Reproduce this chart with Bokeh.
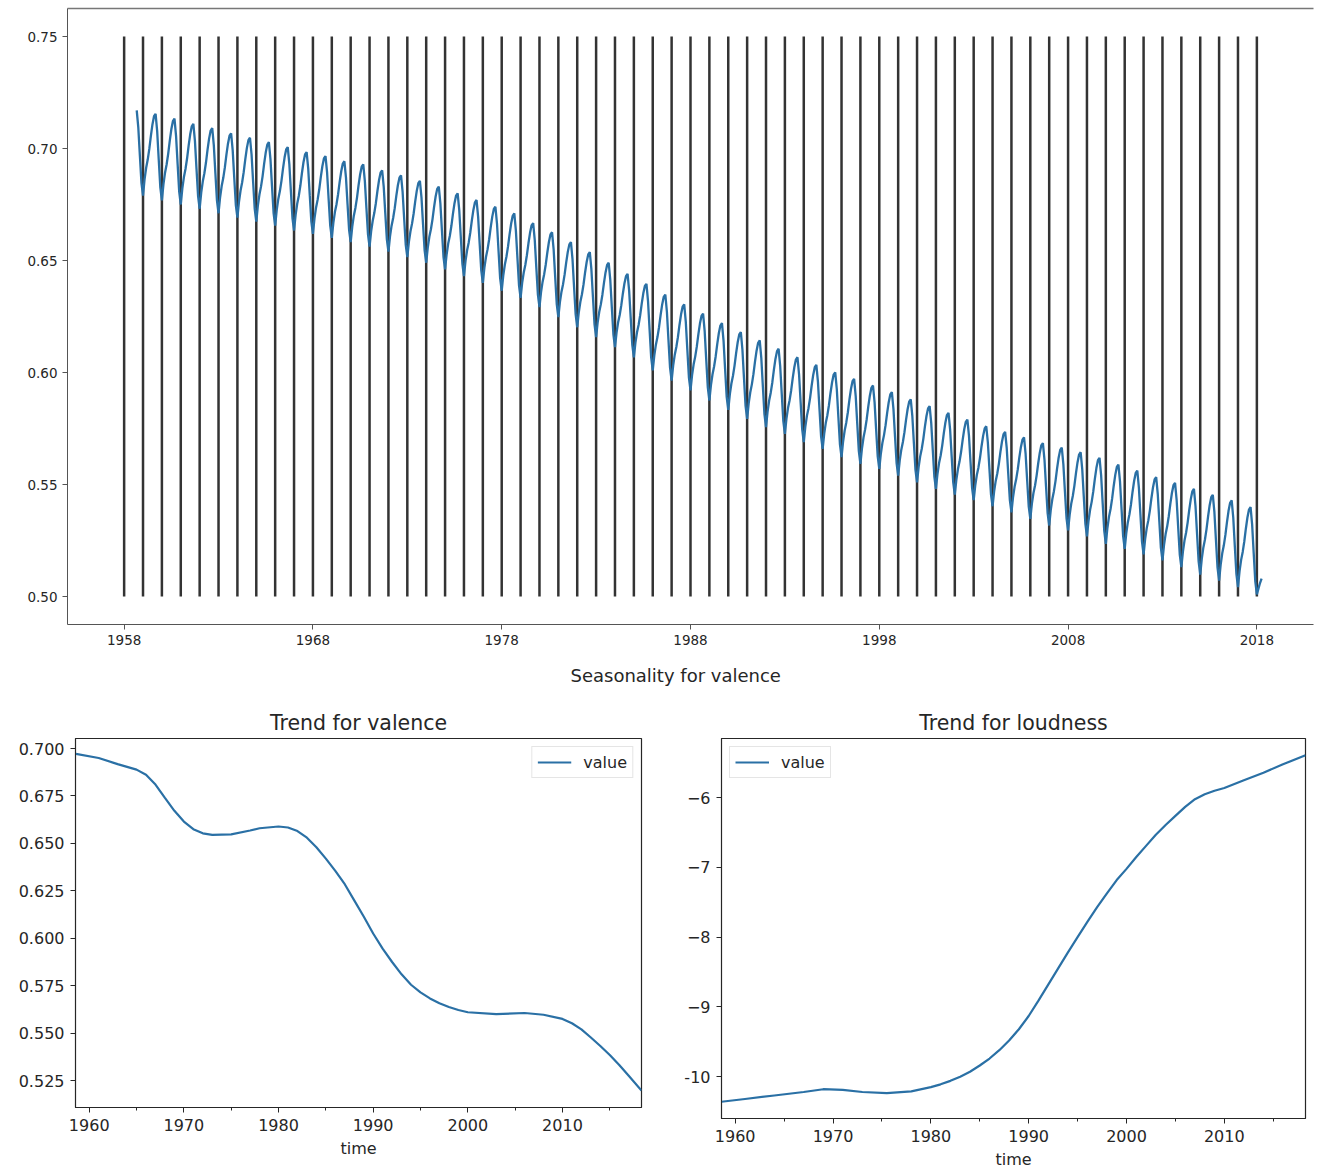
from bokeh.plotting import figure
from bokeh.layouts import column, row
from bokeh.models import Range1d, FixedTicker, LinearAxis, NumeralTickFormatter, Title
from bokeh.embed import file_html
from bokeh.resources import INLINE

FONT = "DejaVu Sans"
LINE_BLUE = "#2a70a5"
TXT = "#262626"

# ---------------- data: seasonality for valence ----------------
YEAR_LINES = list(range(1958, 2019))          # vertical year markers
VLINE_LOW, VLINE_HIGH = 0.50, 0.75

START_YEAR = 1958
START_VALUE = 0.717                             # first point (Sep 1958)
PEAK_YEARS = list(range(1958, 2018))
PEAKS = [0.717, 0.7155, 0.7133, 0.7110, 0.7091, 0.7068, 0.7048, 0.7028, 0.7006, 0.6984,
         0.6966, 0.6943, 0.6929, 0.6902, 0.6880, 0.6855, 0.6830, 0.6800, 0.6770, 0.6740,
         0.6710, 0.6667, 0.6626, 0.6582, 0.6537, 0.6490, 0.6440, 0.6396, 0.6348, 0.6304,
         0.6263, 0.6220, 0.6180, 0.6143, 0.6106, 0.6068, 0.6034, 0.6001, 0.5972, 0.5942,
         0.5912, 0.5880, 0.5850, 0.5820, 0.5790, 0.5760, 0.5735, 0.5710, 0.5685, 0.5665,
         0.5644, 0.5619, 0.5589, 0.5562, 0.5533, 0.5507, 0.5480, 0.5454, 0.5429, 0.5399]
MIN_YEARS = list(range(1959, 2019))
MINS = [0.6790, 0.6768, 0.6750, 0.6731, 0.6711, 0.6691, 0.6674, 0.6656, 0.6634, 0.6619,
        0.6601, 0.6582, 0.6562, 0.6540, 0.6515, 0.6490, 0.6460, 0.6430, 0.6400, 0.6365,
        0.6333, 0.6292, 0.6247, 0.6202, 0.6158, 0.6113, 0.6068, 0.6009, 0.5964, 0.5920,
        0.5875, 0.5833, 0.5793, 0.5756, 0.5726, 0.5689, 0.5659, 0.5622, 0.5592, 0.5570,
        0.5540, 0.5510, 0.5480, 0.5455, 0.5430, 0.5403, 0.5376, 0.5347, 0.5317, 0.5295,
        0.5268, 0.5235, 0.5213, 0.5188, 0.5161, 0.5131, 0.5098, 0.5071, 0.5042, 0.5009]
# monthly shape of one seasonal cycle (0 = yearly low, 1 = yearly high)
SEASON_PROFILE = [0.00, 0.20, 0.34, 0.44, 0.57, 0.73, 0.87, 0.97, 1.00, 0.80, 0.47, 0.15]
PEAK_MONTH = 8
TAIL_MONTHS = [1, 2, 3]                         # last points in 2018
TAIL_VALUES = [0.5035, 0.5060, 0.5080]

# ---------------- data: trends ----------------
VAL_T = [1958.6, 1961, 1963, 1965, 1966, 1967, 1968, 1969, 1970, 1971, 1972, 1973, 1975,
         1977, 1978, 1980, 1981, 1982, 1983, 1984, 1985, 1986, 1987, 1988, 1989, 1990,
         1991, 1992, 1993, 1994, 1995, 1996, 1997, 1998, 1999, 2000, 2003, 2006, 2008,
         2010, 2011, 2012, 2013, 2014, 2015, 2016, 2017, 2018.35]
VAL_V = [0.6972, 0.6950, 0.6918, 0.6889, 0.6862, 0.6810, 0.6740, 0.6672, 0.6615, 0.6575,
         0.6553, 0.6545, 0.6548, 0.6568, 0.6580, 0.6589, 0.6584, 0.6565, 0.6530, 0.6480,
         0.6420, 0.6355, 0.6285, 0.6200, 0.6115, 0.6025, 0.5945, 0.5875, 0.5810, 0.5755,
         0.5715, 0.5683, 0.5658, 0.5638, 0.5622, 0.5610, 0.5600, 0.5606, 0.5597, 0.5575,
         0.5552, 0.5520, 0.5477, 0.5432, 0.5385, 0.5332, 0.5275, 0.5197]

LOUD_T = [1958.6, 1961, 1964, 1967, 1969, 1971, 1973, 1975.5, 1978, 1980, 1981, 1982, 1983,
          1984, 1985, 1986, 1987, 1988, 1989, 1990, 1991, 1992, 1993, 1994, 1995, 1996,
          1997, 1998, 1999, 2000, 2001, 2002, 2003, 2004, 2005, 2006, 2007, 2008, 2009,
          2010, 2012, 2014, 2016, 2018.3]
LOUD_V = [-10.36, -10.32, -10.27, -10.22, -10.18, -10.19, -10.22, -10.235, -10.21, -10.15,
          -10.11, -10.06, -10.00, -9.93, -9.84, -9.74, -9.62, -9.48, -9.32, -9.13, -8.91,
          -8.68, -8.45, -8.22, -8.00, -7.78, -7.57, -7.37, -7.18, -7.02, -6.85, -6.69,
          -6.53, -6.39, -6.26, -6.13, -6.02, -5.95, -5.90, -5.86, -5.75, -5.64, -5.52,
          -5.39]

TOP_Y_TICKS = [0.50, 0.55, 0.60, 0.65, 0.70, 0.75]
TOP_X_TICKS = [1958, 1968, 1978, 1988, 1998, 2008, 2018]
TREND_X_TICKS = [1960, 1970, 1980, 1990, 2000, 2010]
TREND_X_MINOR = [1965, 1975, 1985, 1995, 2005, 2015]
VAL_Y_TICKS = [0.525, 0.550, 0.575, 0.600, 0.625, 0.650, 0.675, 0.700]
LOUD_Y_TICKS = [-10, -9, -8, -7, -6]

# ---------------- build seasonal series ----------------
peak_of = dict(zip(PEAK_YEARS, PEAKS))
min_of = dict(zip(MIN_YEARS, MINS))
st, sv = [START_YEAR + PEAK_MONTH / 12], [START_VALUE]
for m in range(PEAK_MONTH + 1, 12):
    nxt = min_of[START_YEAR + 1]
    st.append(START_YEAR + m / 12)
    sv.append(nxt + SEASON_PROFILE[m] * (peak_of[START_YEAR] - nxt))
for y in MIN_YEARS:
    if y not in peak_of:
        st.append(y)
        sv.append(min_of[y])
        continue
    for m in range(12):
        st.append(y + m / 12)
        if m <= PEAK_MONTH:
            sv.append(min_of[y] + SEASON_PROFILE[m] * (peak_of[y] - min_of[y]))
        else:
            nxt = min_of[y + 1]
            sv.append(nxt + SEASON_PROFILE[m] * (peak_of[y] - nxt))
for m, v in zip(TAIL_MONTHS, TAIL_VALUES):
    st.append(MIN_YEARS[-1] + m / 12)
    sv.append(v)

# ---------------- top figure ----------------
top = figure(frame_width=1246, frame_height=616, output_backend="svg", toolbar_location=None,
             x_range=Range1d(1955, 2021), y_range=Range1d(0.4875, 0.7625),
             min_border_left=67, min_border_right=10, min_border_top=8, min_border_bottom=70)
top.grid.visible = False
top.outline_line_color = None
top.segment(x0=YEAR_LINES, y0=[VLINE_LOW] * len(YEAR_LINES), x1=YEAR_LINES,
            y1=[VLINE_HIGH] * len(YEAR_LINES), line_color="#333333", line_width=2.5)
top.line(st, sv, line_color=LINE_BLUE, line_width=2.3)

for ax in (top.xaxis[0], top.yaxis[0]):
    ax.axis_line_color = "#555555"
    ax.major_tick_line_color = "#555555"
    ax.major_tick_out = 5
    ax.major_tick_in = 0
    ax.minor_tick_line_color = None
    ax.major_label_text_font = FONT
    ax.major_label_text_font_size = "13.5px"
    ax.major_label_text_color = TXT
top.xaxis.ticker = FixedTicker(ticks=TOP_X_TICKS)
top.yaxis.ticker = FixedTicker(ticks=TOP_Y_TICKS)
top.yaxis.formatter = NumeralTickFormatter(format="0.00")
ax_top = LinearAxis(ticker=FixedTicker(ticks=[]), major_label_text_font_size="0px",
                    major_tick_out=0, major_tick_in=0, minor_tick_out=0, minor_tick_in=0,
                    major_label_standoff=0, axis_line_color="#777777", axis_line_width=1.5)
top.add_layout(ax_top, "above")
top.add_layout(Title(text="Seasonality for valence", align="left", offset=503,
                     text_font=FONT, text_font_size="18px", text_font_style="normal",
                     text_color=TXT, standoff=31), "below")


def style_trend(p, title):
    p.grid.visible = False
    p.outline_line_color = "#262626"
    p.outline_line_width = 1.2
    p.title.text = title
    p.title.align = "center"
    p.title.text_font = FONT
    p.title.text_font_size = "20.5px"
    p.title.text_font_style = "normal"
    p.title.text_color = TXT
    p.title.standoff = 8
    for ax in (p.xaxis[0], p.yaxis[0]):
        ax.axis_line_color = "#262626"
        ax.major_tick_line_color = "#262626"
        ax.minor_tick_line_color = "#262626"
        ax.major_tick_out = 5
        ax.major_tick_in = 0
        ax.minor_tick_out = 3
        ax.minor_tick_in = 0
        ax.major_label_text_font = FONT
        ax.major_label_text_font_size = "16px"
        ax.major_label_text_color = TXT
        ax.major_label_standoff = 6
    p.yaxis.minor_tick_line_color = None
    p.xaxis.ticker = FixedTicker(ticks=TREND_X_TICKS, minor_ticks=TREND_X_MINOR)
    p.xaxis.axis_label = "time"
    p.xaxis.axis_label_text_font = FONT
    p.xaxis.axis_label_text_font_size = "16px"
    p.xaxis.axis_label_text_font_style = "normal"
    p.xaxis.axis_label_text_color = TXT
    p.xaxis.axis_label_standoff = 5
    p.legend.label_text_font = FONT
    p.legend.label_text_font_size = "16px"
    p.legend.label_text_color = TXT
    p.legend.glyph_width = 34
    p.legend.label_standoff = 12
    p.legend.padding = 5
    p.legend.margin = 8
    p.legend.border_line_color = "#cccccc"
    p.legend.background_fill_alpha = 0.9


# ---------------- bottom-left ----------------
bl = figure(frame_width=566, frame_height=369, output_backend="svg", toolbar_location=None,
            x_range=Range1d(1958.55, 2018.35), y_range=Range1d(0.5108, 0.7053),
            min_border_left=75, min_border_right=19, min_border_top=37, min_border_bottom=50)
bl.line(VAL_T, VAL_V, line_color=LINE_BLUE, line_width=2.2, legend_label="value")
style_trend(bl, "Trend for valence")
bl.yaxis.ticker = FixedTicker(ticks=VAL_Y_TICKS)
bl.yaxis.formatter = NumeralTickFormatter(format="0.000")
bl.legend.location = "top_right"

# ---------------- bottom-right ----------------
br = figure(frame_width=584, frame_height=380, output_backend="svg", toolbar_location=None,
            x_range=Range1d(1958.6, 2018.3), y_range=Range1d(-10.60, -5.15),
            min_border_left=61, min_border_right=14, min_border_top=37, min_border_bottom=44)
br.line(LOUD_T, LOUD_V, line_color=LINE_BLUE, line_width=2.2, legend_label="value")
style_trend(br, "Trend for loudness")
br.yaxis.ticker = FixedTicker(ticks=LOUD_Y_TICKS)
br.yaxis.major_label_overrides = {t: ("\u2212" + str(abs(t)) if t > -10 else "-10")
                                  for t in LOUD_Y_TICKS}
br.legend.location = "top_left"

layout = column(top, row(bl, br, spacing=0), spacing=0)
open("out.html", "w").write(file_html(layout, INLINE))
